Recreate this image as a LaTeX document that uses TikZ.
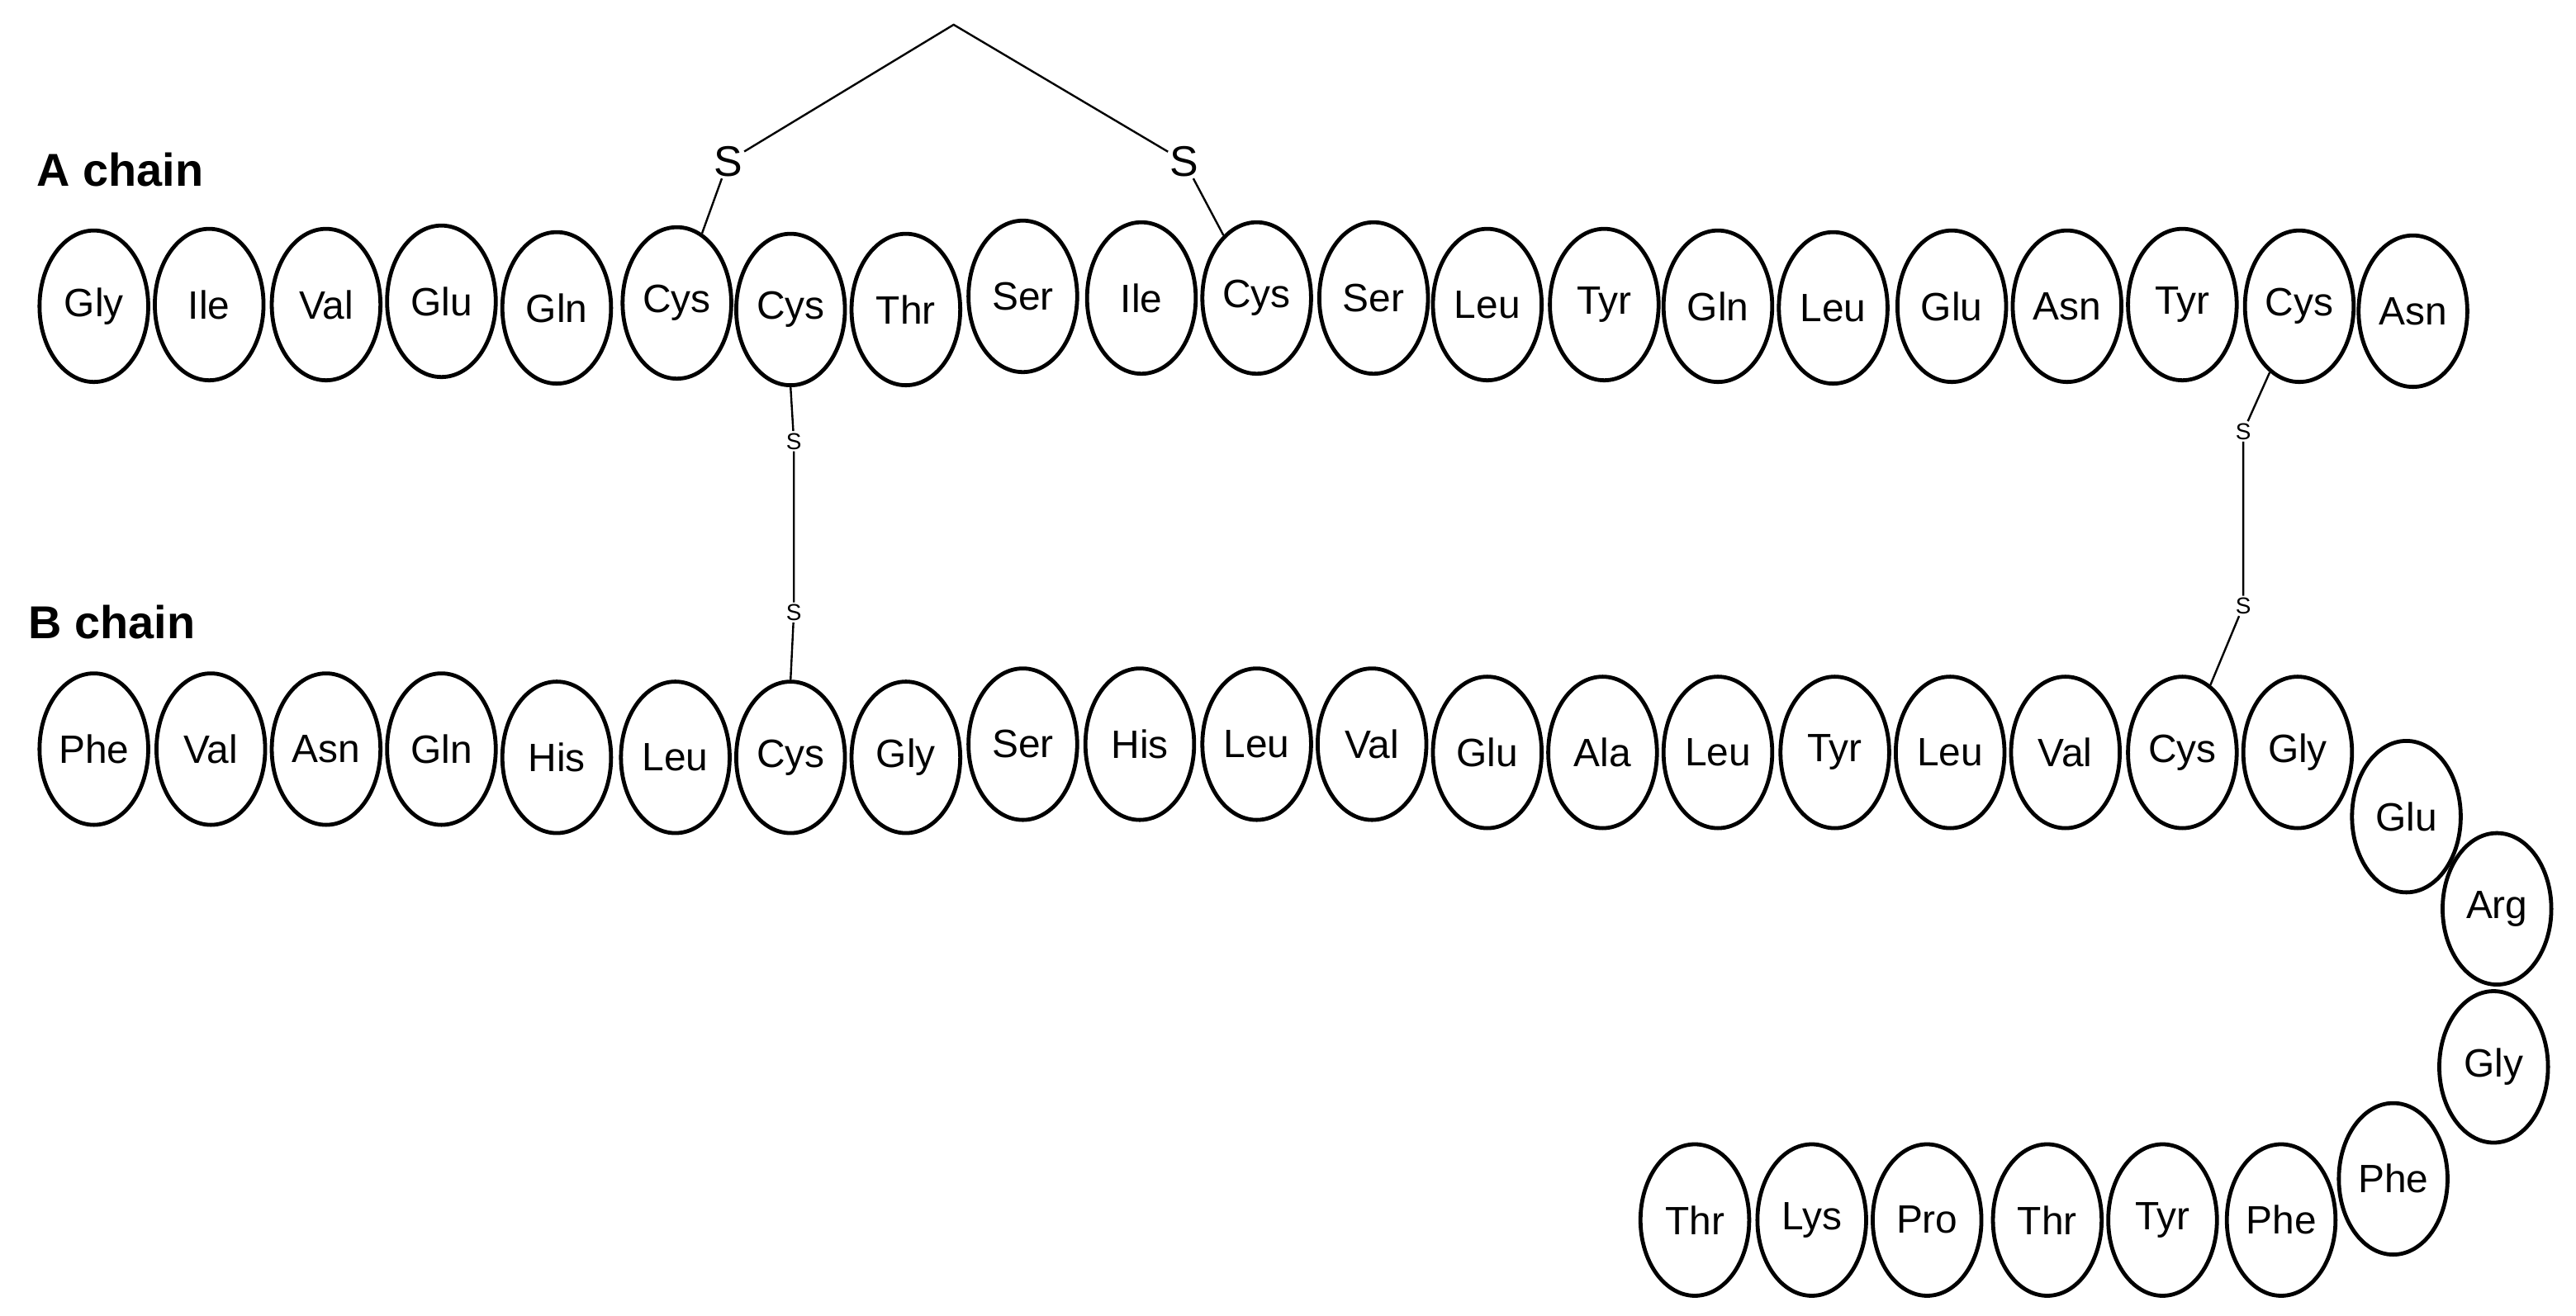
\documentclass[tikz,border=0pt]{standalone}
\usepackage{fontspec}
\setmainfont{Liberation Sans}
\usetikzlibrary{shapes.geometric}
\begin{document}
\begin{tikzpicture}[x=1pt,y=-1pt,
  aa/.style={draw,line width=2.4pt,ellipse,minimum width=66pt,minimum height=92pt,inner sep=0pt,font=\fontsize{24}{28}\selectfont},
  bond/.style={line width=1.2pt},
  bigS/.style={inner sep=1pt,font=\fontsize{26}{30}\selectfont},
  smallS/.style={inner sep=1pt,font=\fontsize{14}{16}\selectfont}]
\useasboundingbox (0,0) rectangle (1564,799);
\node[font=\bfseries\fontsize{28}{32}\selectfont] at (73,103) {A chain};
\node[font=\bfseries\fontsize{28}{32}\selectfont] at (68,378) {B chain};
\foreach \n/\x/\y/\t in {a1/57/186/Gly,a2/127/185/Ile,a3/198/185/Val,a4/268/183/Glu,a5/338/187/Gln,a6/411/184/Cys,a7/480/188/Cys,a8/550/188/Thr,a9/621/180/Ser,a10/693/181/Ile,a11/763/181/Cys,a12/834/181/Ser,a13/903/185/Leu,a14/974/185/Tyr,a15/1043/186/Gln,a16/1113/187/Leu,a17/1185/186/Glu,a18/1255/186/Asn,a19/1325/185/Tyr,a20/1396/186/Cys,a21/1465/189/Asn}
  \node[aa] (\n) at (\x,\y) {\t};
\foreach \n/\x/\y/\t in {b1/57/455/Phe,b2/128/455/Val,b3/198/455/Asn,b4/268/455/Gln,b5/338/460/His,b6/410/460/Leu,b7/480/460/Cys,b8/550/460/Gly,b9/621/452/Ser,b10/692/452/His,b11/763/452/Leu,b12/833/452/Val,b13/903/457/Glu,b14/973/457/Ala,b15/1043/457/Leu,b16/1114/457/Tyr,b17/1184/457/Leu,b18/1254/457/Val,b19/1325/457/Cys,b20/1395/457/Gly,b21/1461/496/Glu,b22/1516/552/Arg,b23/1514/648/Gly,b24/1453/716/Phe,b25/1385/741/Phe,b26/1313/741/Tyr,b27/1243/741/Thr,b28/1170/741/Pro,b29/1100/741/Lys,b30/1029/741/Thr}
  \node[aa] (\n) at (\x,\y) {\t};
\node[bigS] (s1) at (442,98) {S};
\node[bigS] (s2) at (719,98) {S};
\coordinate (apex) at (579,15);
\draw[bond] (a6) -- (s1);
\draw[bond] (s1) -- (apex) -- (s2);
\draw[bond] (s2) -- (a11);
\node[smallS] (s3) at (482,268) {S};
\node[smallS] (s4) at (482,372) {S};
\draw[bond] (a7.south) -- (s3) -- (s4) -- (b7.north);
\node[smallS] (s5) at (1362,262) {S};
\node[smallS] (s6) at (1362,368) {S};
\draw[bond] (a20) -- (s5) -- (s6) -- (b19);
\end{tikzpicture}
\end{document}
